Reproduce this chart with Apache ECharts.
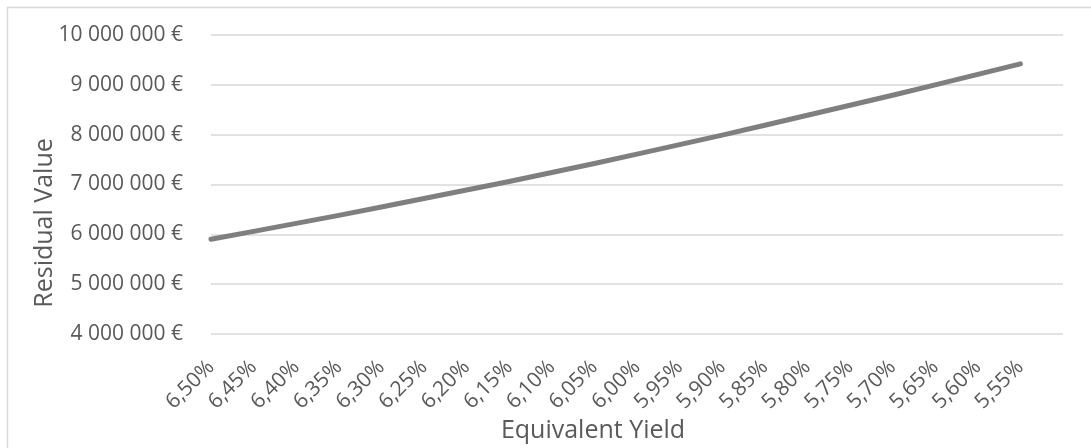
<!DOCTYPE html>
<html>
<head>
<meta charset="utf-8">
<script src="https://cdn.jsdelivr.net/npm/echarts@6/dist/echarts.min.js"></script>
<style>
html,body{margin:0;padding:0;background:#fff;}
#chart{width:1091px;height:448px;}
</style>
</head>
<body>
<div id="chart"></div>
<script>
const yieldLabels = ["6,50%","6,45%","6,40%","6,35%","6,30%","6,25%","6,20%","6,15%","6,10%","6,05%","6,00%","5,95%","5,90%","5,85%","5,80%","5,75%","5,70%","5,65%","5,60%","5,55%"];
const residualValues = [5900000,6060000,6220000,6380000,6550000,6720000,6890000,7060000,7240000,7420000,7610000,7800000,7990000,8190000,8390000,8590000,8790000,9000000,9210000,9420000];
const yTicks = {min: 4000000, max: 10000000, interval: 1000000};
const xTitle = "Equivalent Yield";
const yTitle = "Residual Value";

const cats = yieldLabels.concat([""]);
const FONT = "'Open Sans', sans-serif";
const TXT = "#595959";

function fmtEuro(v){
  return String(Math.round(v)).replace(/\B(?=(\d{3})+(?!\d))/g, " ") + " €";
}

const chart = echarts.init(document.getElementById('chart'), null, {renderer:'canvas'});
chart.setOption({
  animation: false,
  backgroundColor: '#ffffff',
  grid: {left: 211, right: 28, top: 35, bottom: 114, containLabel: false},
  xAxis: {
    type: 'category',
    data: cats,
    boundaryGap: false,
    axisLine: {show: false},
    axisTick: {show: false},
    splitLine: {show: false},
    axisLabel: {
      rotate: 45,
      interval: 0,
      margin: 30,
      color: TXT,
      fontFamily: FONT,
      fontSize: 21
    }
  },
  yAxis: {
    type: 'value',
    min: yTicks.min,
    max: yTicks.max,
    interval: yTicks.interval,
    axisLine: {show: false},
    axisTick: {show: false},
    splitLine: {lineStyle: {color: '#d9d9d9', width: 1.5}},
    axisLabel: {
      formatter: fmtEuro,
      color: TXT,
      fontFamily: FONT,
      fontSize: 21,
      margin: 28
    }
  },
  series: [{
    type: 'line',
    data: residualValues,
    showSymbol: false,
    symbol: 'none',
    lineStyle: {color: '#7f7f7f', width: 5, cap: 'round', join: 'round'},
    itemStyle: {color: '#7f7f7f'}
  }],
  graphic: [
    {type: 'rect', shape: {x: 7.5, y: 7.5, width: 1200, height: 600},
     style: {fill: 'none', stroke: '#d9d9d9', lineWidth: 1.5}, silent: true, z: -1},
    {type: 'text', position: [593, 431], style: {text: xTitle, fill: TXT, font: "25px 'Open Sans', sans-serif", textAlign: 'center', textVerticalAlign: 'middle'}},
    {type: 'text', rotation: Math.PI/2, position: [45, 223], style: {text: yTitle, fill: TXT, font: "25px 'Open Sans', sans-serif", textAlign: 'center', textVerticalAlign: 'middle'}}
  ]
});
</script>
</body>
</html>
